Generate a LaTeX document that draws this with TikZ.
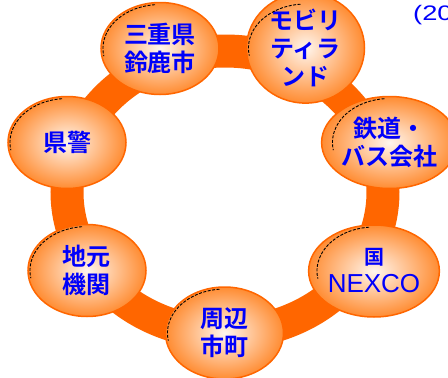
\documentclass[tikz,border=0pt]{standalone}
\usepackage{fontspec}
\newfontfamily\jfont{Noto Sans CJK JP}[BoldFont={Noto Sans CJK JP Bold}]
\newfontfamily\lfont{Liberation Sans}
\usetikzlibrary{shapes.geometric,backgrounds}
\definecolor{ringorange}{RGB}{255,102,0}
\definecolor{shadeorange}{RGB}{255,140,50}
\definecolor{shadecenter}{RGB}{255,246,238}
\definecolor{textblue}{RGB}{0,0,250}
\tikzset{
  member/.style={ellipse, draw=ringorange, line width=1.5pt,
    inner color=shadecenter, outer color=shadeorange,
    minimum width=118pt, minimum height=92pt, inner sep=0pt,
    align=center, text=textblue,
    font=\jfont\bfseries\fontsize{24}{28}\selectfont},
  ring/.style={draw=ringorange, line width=33pt},
  rim/.style={draw=black, line width=0.9pt, dash pattern=on 3pt off 1.5pt}
}
\def\blackrim#1{
  \draw[rim] ([xshift=-5pt,yshift=43.8pt]#1.center)
    arc [start angle=95, end angle=190, x radius=57pt, y radius=44pt];
}

\begin{document}
\begin{tikzpicture}[x=1pt,y=-1pt]
  \useasboundingbox (0,0) rectangle (448,378);
  \coordinate (hub) at (225,192);
  % members round the ring
  \node[member] (suzuka) at (160,48.5) {三重県\\鈴鹿市};
  \node[member] (mobility) at (305.5,48) {モビリ\\ティラ\\ンド};
  \node[member] (tetsudo) at (389.5,142.5) {鉄道・\\バス会社};
  \node[member] (kuni) at (374,271)
    {{\fontsize{20}{24}\selectfont 国}\\{\lfont\mdseries\fontsize{26}{28}\selectfont NEXCO}};
  \node[member] (shuhen) at (224.5,333) {周辺\\市町};
  \node[member] (jimoto) at (87,270.5) {地元\\機関};
  \node[member] (kenkei) at (67,142.5) {県警};
  \foreach \n in {suzuka,mobility,tetsudo,kuni,shuhen,jimoto,kenkei}
    \blackrim{\n};
  \node[anchor=base west, inner sep=0pt, text=textblue,
    font=\lfont\fontsize{21}{24}\selectfont] (year) at (413,20)
    {\scalebox{1.3}[1]{(20}};
  \begin{scope}[on background layer]
    \draw[ring] (hub) ellipse [x radius=158pt, y radius=141pt];
  \end{scope}
\end{tikzpicture}
\end{document}
